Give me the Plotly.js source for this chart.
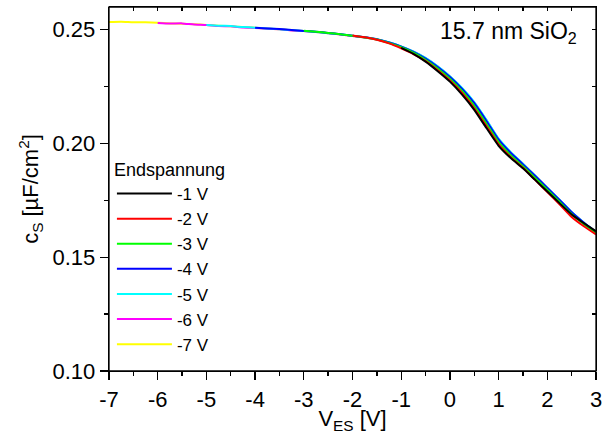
<!DOCTYPE html>
<html>
<head>
<meta charset="utf-8">
<script src="https://cdn.plot.ly/plotly-3.0.1.min.js"></script>
<style>html,body{margin:0;padding:0;background:#fff;}#chart{width:612px;height:434px;}</style>
</head>
<body>
<div id="chart"></div>
<script>
// Bias voltage grid V_ES [V]
const vGrid = [-7,-6.75,-6.5,-6.25,-6,-5.75,-5.5,-5.25,-5,-4.75,-4.5,-4.25,-4,-3.75,-3.5,-3.25,-3,-2.75,-2.5,-2.25,-2,-1.75,-1.5,-1.25,-1,-0.75,-0.5,-0.25,0,0.25,0.5,0.75,1,1.25,1.5,1.75,2,2.25,2.5,2.75,3];

// c_S [µF/cm²] for each end voltage (each sweep runs from its end voltage to +3 V)
const cs_m7 = [0.2534,0.2535,0.2533,0.2533,0.2531,0.2528,0.2526,0.2524,0.2521,0.2518,0.2515,0.2512,0.2509,0.2505,0.2502,0.2498,0.2494,0.2490,0.2485,0.2479,0.2473,0.2466,0.2457,0.2444,0.2426,0.2404,0.2375,0.2338,0.2294,0.2242,0.2180,0.2102,0.2019,0.1960,0.1910,0.1858,0.1805,0.1752,0.1698,0.1652,0.1610];
const cs_m6 = [0.2530,0.2527,0.2528,0.2523,0.2521,0.2516,0.2515,0.2510,0.2508,0.2505,0.2502,0.2497,0.2494,0.2490,0.2485,0.2479,0.2473,0.2466,0.2457,0.2444,0.2426,0.2404,0.2375,0.2338,0.2294,0.2242,0.2180,0.2102,0.2019,0.1960,0.1910,0.1858,0.1805,0.1752,0.1698,0.1652,0.1610];
const cs_m5 = [0.2521,0.2518,0.2516,0.2512,0.2509,0.2506,0.2502,0.2499,0.2495,0.2490,0.2485,0.2480,0.2474,0.2467,0.2458,0.2445,0.2427,0.2405,0.2376,0.2339,0.2296,0.2244,0.2182,0.2104,0.2021,0.1962,0.1911,0.1859,0.1806,0.1753,0.1699,0.1653,0.1611];
const cs_m4 = [0.2509,0.2506,0.2503,0.2499,0.2495,0.2491,0.2486,0.2480,0.2474,0.2467,0.2458,0.2444,0.2426,0.2403,0.2373,0.2336,0.2292,0.2240,0.2177,0.2099,0.2017,0.1958,0.1908,0.1857,0.1805,0.1752,0.1698,0.1652,0.1611];
const cs_m3 = [0.2496,0.2491,0.2486,0.2480,0.2474,0.2466,0.2457,0.2442,0.2423,0.2399,0.2368,0.2330,0.2285,0.2231,0.2166,0.2087,0.2006,0.1949,0.1900,0.1849,0.1797,0.1744,0.1690,0.1645,0.1606];
const cs_m2 = [0.2475,0.2467,0.2456,0.2440,0.2418,0.2393,0.2362,0.2322,0.2277,0.2222,0.2155,0.2076,0.1996,0.1940,0.1893,0.1840,0.1787,0.1733,0.1677,0.1636,0.1600];
const cs_m1 = [0.2420,0.2394,0.2360,0.2318,0.2272,0.2215,0.2148,0.2068,0.1990,0.1936,0.1891,0.1840,0.1789,0.1738,0.1688,0.1650,0.1614];

const seriesNames = ["-7 V","-6 V","-5 V","-4 V","-3 V","-2 V","-1 V"];
const seriesData = [cs_m7, cs_m6, cs_m5, cs_m4, cs_m3, cs_m2, cs_m1];
const seriesColors = ["#ffff00","#ff00ff","#00ffff","#0000ff","#00ff00","#ff0000","#000000"];

const xTickVals = [-7,-6,-5,-4,-3,-2,-1,0,1,2,3];
const xTickText = ["-7","-6","-5","-4","-3","-2","-1","0","1","2","3"];
const yTickVals = [0.10,0.15,0.20,0.25];
const yTickText = ["0.10","0.15","0.20","0.25"];

const FONT = "Liberation Sans, Arial, Helvetica, sans-serif";

const traces = seriesData.map((ys, i) => ({
  type: "scatter",
  mode: "lines",
  name: seriesNames[i],
  x: vGrid.slice(vGrid.length - ys.length),
  y: ys,
  line: {color: seriesColors[i], width: 2, shape: "spline", smoothing: 0.5}
}));
// invisible copy on a twin subplot whose top/right axes carry the inward frame ticks
traces.unshift({type: "scatter", mode: "lines", x: vGrid, y: cs_m7, xaxis: "x2", yaxis: "y2",
  line: {color: "rgba(0,0,0,0)", width: 0}, showlegend: false, hoverinfo: "skip"});

const axisCommon = {
  showgrid: false, zeroline: false, showline: true,
  linecolor: "#000", linewidth: 1.3,
  tickcolor: "#000", tickwidth: 1.3
};

const layout = {
  width: 612, height: 434,
  margin: {l: 109, r: 16, t: 7, b: 63},
  paper_bgcolor: "#fff", plot_bgcolor: "rgba(0,0,0,0)",
  font: {family: FONT, color: "#000", size: 22},
  showlegend: true,
  legend: {
    x: 0.006, y: 0.60, xanchor: "left", yanchor: "top",
    bgcolor: "rgba(0,0,0,0)", borderwidth: 0,
    traceorder: "reversed",
    font: {family: FONT, size: 17, color: "#000"},
    title: {text: "Endspannung", font: {family: FONT, size: 18, color: "#000"}},
    itemwidth: 55
  },
  xaxis: Object.assign({}, axisCommon, {
    domain: [0, 1], anchor: "y",
    range: [-7, 3], tickmode: "array", tickvals: xTickVals, ticktext: xTickText,
    ticks: "outside", ticklen: 8,
    minor: {tickmode: "linear", tick0: -7, dtick: 0.5, ticks: "outside", ticklen: 4, tickcolor: "#000", tickwidth: 1.3},
    tickfont: {family: FONT, size: 22},
    title: {text: "V<sub>ES</sub> [V]", font: {family: FONT, size: 22}, standoff: 0}
  }),
  yaxis: Object.assign({}, axisCommon, {
    domain: [0, 1], anchor: "x",
    range: [0.10, 0.26], tickmode: "array", tickvals: yTickVals, ticktext: yTickText,
    ticks: "outside", ticklen: 8,
    minor: {tickmode: "linear", tick0: 0.1, dtick: 0.025, ticks: "outside", ticklen: 4, tickcolor: "#000", tickwidth: 1.3},
    tickfont: {family: FONT, size: 22},
    title: {text: "c<sub>S</sub> [µF/cm<sup>2</sup>]", font: {family: FONT, size: 22}, standoff: 7}
  }),
  xaxis2: Object.assign({}, axisCommon, {
    domain: [0, 1], anchor: "y2", side: "top",
    range: [-7, 3], tickmode: "linear", tick0: -7, dtick: 0.5,
    ticks: "inside", ticklen: 4, showticklabels: false
  }),
  yaxis2: Object.assign({}, axisCommon, {
    domain: [0, 1], anchor: "x2", side: "right",
    range: [0.10, 0.26], tickmode: "linear", tick0: 0.1, dtick: 0.025,
    ticks: "inside", ticklen: 4, showticklabels: false
  }),
  shapes: [{
    type: "rect", xref: "paper", yref: "paper", x0: 0, x1: 1, y0: 0, y1: 1,
    line: {color: "#000", width: 1.3}, fillcolor: "rgba(0,0,0,0)", layer: "above"
  }],
  annotations: [{
    xref: "paper", yref: "paper", x: 0.965, y: 0.93,
    xanchor: "right", yanchor: "middle", showarrow: false,
    text: "15.7 nm SiO<sub>2</sub>",
    font: {family: FONT, size: 23, color: "#000"}
  }]
};

Plotly.newPlot("chart", traces, layout, {staticPlot: true, displayModeBar: false});
</script>
</body>
</html>
